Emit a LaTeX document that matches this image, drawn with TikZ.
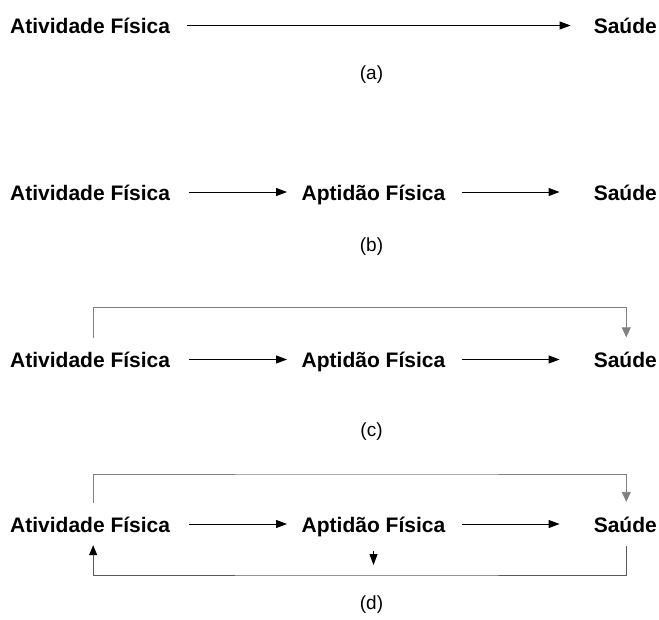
\documentclass[tikz,border=0pt]{standalone}
\usepackage{fontspec}
\setmainfont{Liberation Sans}
\usetikzlibrary{arrows.meta}
\definecolor{loopgray}{RGB}{128,128,128}
\definecolor{botgray}{RGB}{90,90,90}
\begin{document}
\begin{tikzpicture}[x=1pt,y=-1pt,
  term/.style={inner sep=0pt, text height=16pt, text depth=0pt, font=\fontsize{21}{25}\selectfont\bfseries},
  caption/.style={inner sep=0pt, font=\fontsize{19}{23}\selectfont},
  arr/.style={line width=0.9pt, -{Triangle[length=11pt,width=8pt]}},
  toploop/.style={line width=0.9pt, draw=loopgray, -{Triangle[length=10pt,width=9pt,color=loopgray]}},
  botloop/.style={line width=0.9pt, draw=botgray, -{Triangle[length=10pt,width=8pt,color=black]}}]
\useasboundingbox (0,0) rectangle (659,619);

% (a)
\node[term, anchor=west] (atA) at (10,25.5) {Atividade Física};
\node[term, anchor=east] (saA) at (657,25.5) {Saúde};
\draw[arr, shorten <=17pt, shorten >=23pt] (atA.east) -- (saA.west);
\node[caption] (capA) at (371.5,75) {(a)};

% (b)
\node[term, anchor=west] (atB) at (10,192) {Atividade Física};
\node[term] (apB) at (373.5,192) {Aptidão Física};
\node[term, anchor=east] (saB) at (657,192) {Saúde};
\draw[arr, shorten <=19pt, shorten >=14.5pt] (atB.east) -- (apB.west);
\draw[arr, shorten <=16.5pt, shorten >=34pt] (apB.east) -- (saB.west);
\node[caption] (capB) at (371.5,247) {(b)};

% (c)
\node[term, anchor=west] (atC) at (10,359.5) {Atividade Física};
\node[term] (apC) at (373.5,359.5) {Aptidão Física};
\node[term, anchor=east] (saC) at (657,359.5) {Saúde};
\draw[arr, shorten <=19pt, shorten >=14.5pt] (atC.east) -- (apC.west);
\draw[arr, shorten <=16.5pt, shorten >=34pt] (apC.east) -- (saC.west);
\coordinate (tc) at (373.5,307.5);
\draw[toploop, shorten <=13pt, shorten >=14pt] ([xshift=3pt]atC.north) |- (tc) -| ([xshift=1pt]saC.north);
\node[caption] (capC) at (371.5,432) {(c)};

% (d)
\node[term, anchor=west] (atD) at (10,524) {Atividade Física};
\node[term] (apD) at (373.5,524) {Aptidão Física};
\node[term, anchor=east] (saD) at (657,524) {Saúde};
\draw[arr, shorten <=19pt, shorten >=14.5pt] (atD.east) -- (apD.west);
\draw[arr, shorten <=16.5pt, shorten >=34pt] (apD.east) -- (saD.west);
\coordinate (td) at (373.5,474);
\draw[toploop, shorten <=13pt, shorten >=14pt] ([xshift=3pt]atD.north) |- (td) -| ([xshift=1pt]saD.north);
\coordinate (apTip) at (373.5,565);
\draw[arr, shorten <=19pt] (apD.south) -- (apTip);
\coordinate (bd) at (373.5,575);
\draw[botloop, shorten <=14pt, shorten >=13pt] ([xshift=1pt]saD.south) |- (bd) -| ([xshift=3pt]atD.south);
\node[caption] (capD) at (371.5,605) {(d)};
\end{tikzpicture}
\end{document}
